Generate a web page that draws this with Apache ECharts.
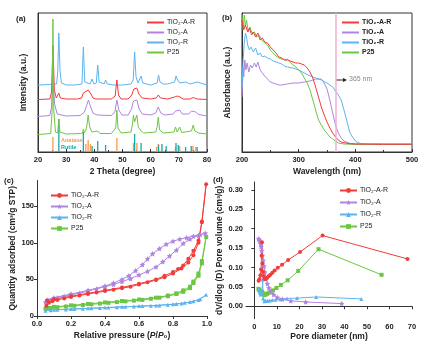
<!DOCTYPE html>
<html><head><meta charset="utf-8">
<script src="https://cdn.jsdelivr.net/npm/echarts@6/dist/echarts.min.js"></script>
<style>html,body{margin:0;padding:0;background:#fff}#c{width:426px;height:347px}</style>
</head><body><div id="c"></div>
<script>
// ---------- DATA ----------
const names = ['TiO₂-A-R', 'TiO₂-A', 'TiO₂-R', 'P25'];
// (a) XRD: [2theta, intensity a.u. (stacked)]
const xrdAR = [[20,52.5],[24.2,53],[24.8,60],[25.3,107],[25.8,62],[26.5,54],[27.0,55],[27.4,59],[27.9,54],[30,53],[34,53],[35.5,54],[36.1,59],[36.8,58],[37.8,62],[38.6,59],[39.5,54],[40.5,53],[41.2,55],[42,53],[46,53],[47.4,56],[48.0,72],[48.6,57],[49.5,53],[52,53],[53.3,57],[54.0,63],[54.6,62],[55.1,64],[55.8,58],[57,54],[60,53],[62,54],[62.7,57],[63.5,54],[66,53],[68.5,55],[69.5,56],[70.4,55],[71.5,53],[74,53],[75.1,54.5],[76.5,53],[80,52.5]];
const xrdA = [[20,35.5],[24.2,36.5],[24.8,45],[25.3,72],[25.9,48],[26.8,38],[30,36],[35,36.5],[36.5,40],[37.1,45],[37.9,52],[38.6,46],[39.5,39],[41,37],[46,36.5],[47.3,40],[48.0,52],[48.7,42],[49.8,37],[52,37],[53.2,43],[53.9,51],[54.5,49],[55.1,52],[55.9,43],[57,38],[60,37],[61.8,39],[62.7,45],[63.6,39],[65,37],[68,38],[68.8,41],[69.5,40],[70.3,42],[71.2,38],[73.5,38],[74.5,41],[75.1,42],[76,40],[77,37.5],[80,36]];
const xrdR = [[20,67],[24,67.5],[26.6,68],[27.0,80],[27.4,119],[27.8,82],[28.3,69],[30,67],[33,67],[35.6,68],[36.1,105],[36.6,70],[38.5,68],[39.2,73],[39.8,68],[40.7,69],[41.2,87],[41.7,70],[43.5,68],[44.0,72],[44.6,68],[47,67],[50,67],[53,68],[53.8,72],[54.3,100],[54.8,75],[55.5,69],[56.1,70],[56.6,76],[57.2,69],[60,67],[62.3,69],[62.8,77],[63.3,70],[64.0,72],[64.6,68],[66,68],[68.5,70],[69.0,76],[69.4,73],[69.8,75],[70.3,69],[72.4,70],[74,68],[76.5,70],[77,68],[80,67]];
const xrdP25 = [[20,17.5],[24.5,18.5],[25.0,40],[25.3,133],[25.6,42],[26.2,20],[27.0,19],[27.4,33],[27.8,20],[30,18],[35,18.5],[35.8,19],[36.1,23],[36.5,19.5],[37.0,22],[37.4,27],[37.8,37],[38.3,26],[38.6,23],[39.2,20],[41.2,21],[42,18.5],[46,18.5],[47.6,24],[48.0,42],[48.4,24],[49.5,19],[53,20],[53.5,27],[53.9,37],[54.3,30],[55.1,37],[55.6,25],[56.6,21],[57.5,19],[61.8,20],[62.3,25],[62.7,35],[63.2,22],[64.5,19],[68.3,20],[68.8,25],[69.4,20],[70.3,25],[71,19.5],[74.5,21],[75.1,27],[75.7,21],[77,19],[80,18]];
const anatase = [[25.3,15],[37.0,8],[37.8,12],[38.6,8],[48.0,14],[53.9,9],[55.1,9],[62.1,5],[62.7,8],[68.8,5],[70.3,6],[75.0,6],[76.0,5]];
const rutile = [[27.4,33],[36.1,20],[39.2,6],[41.2,11],[44.0,7],[54.3,18],[56.6,9],[62.8,7],[64.0,8],[65.5,6],[69.0,9],[69.8,7],[72.4,5],[74.4,6],[76.5,5]];
// (b) UV-vis: [wavelength nm, absorbance a.u.]
const uvAR = [[200,132],[203,122],[206,127],[210,120],[213,124],[217,117],[220,120],[224,115],[228,119],[232,112],[236,114],[240,110],[245,109],[250,105],[255,102],[260,99],[265,95],[270,94],[275,92],[280,92],[285,91],[290,90],[295,89],[300,89],[305,88],[310,87],[315,84],[320,80],[325,74],[330,65],[335,55],[340,45],[345,37],[350,30],[355,24],[360,19],[365,15],[370,12],[375,10],[380,9.3],[390,8.3],[400,8],[450,7.7],[500,7.7]];
const uvA = [[200,55],[201,69],[202,85],[203,75],[205,92],[207,82],[209,89],[212,80],[215,87],[218,84],[222,89],[225,85],[228,90],[232,82],[236,79],[240,76],[245,73],[250,70],[255,69],[260,68],[265,67],[270,67],[280,68],[290,69],[300,69],[310,70],[320,71],[330,73],[336,73],[340,73],[345,69],[350,63],[355,52],[360,39],[365,27],[370,19],[375,14],[380,11],[390,8.7],[400,8],[450,7.7],[500,7.7]];
const uvR = [[200,65],[202,92],[204,109],[206,119],[208,115],[210,107],[213,102],[216,105],[220,100],[224,104],[228,97],[232,99],[236,95],[240,96],[245,94],[250,93],[255,91],[260,90],[265,89],[270,88],[275,86],[280,85],[290,84],[300,82],[310,79],[320,76],[330,74],[340,72],[350,69],[355,67],[360,65],[365,61],[370,57],[375,52],[380,42],[385,31],[390,20],[395,15],[400,11],[405,9.3],[410,8.3],[420,8],[500,8]];
const uvP25 = [[200,138],[202,122],[204,137],[206,125],[208,132],[211,120],[214,125],[218,119],[222,120],[226,115],[230,117],[235,112],[240,109],[245,107],[250,102],[255,99],[260,96],[265,94],[270,93],[273,95],[276,92],[280,93],[285,90],[290,87],[295,85],[300,82],[305,79],[310,74],[315,69],[320,62],[325,52],[330,42],[335,32],[340,27],[345,22],[350,18.7],[355,15],[360,13],[370,9],[380,8],[400,7.7],[500,7.7]];
// (c) N2 isotherms: [P/P0, quantity adsorbed cm3/g STP] (adsorption then desorption)
const isoAR = [[0.055,14],[0.07,18],[0.09,20],[0.12,22],[0.16,24],[0.2,26],[0.25,28],[0.3,30],[0.35,32],[0.4,34],[0.45,36],[0.5,38],[0.55,40],[0.6,43],[0.65,46],[0.7,49],[0.75,53],[0.8,58],[0.85,65],[0.89,73],[0.92,83],[0.95,100],[0.97,128],[0.995,180],[0.97,129],[0.95,103],[0.92,89],[0.89,78],[0.86,69],[0.83,64],[0.8,60],[0.75,55],[0.7,50],[0.6,44],[0.5,39],[0.4,35],[0.3,31],[0.2,27],[0.1,23],[0.06,21]];
const isoA = [[0.05,19],[0.07,21],[0.09,23],[0.12,25],[0.16,27],[0.2,29],[0.25,31],[0.3,34],[0.35,37],[0.4,40],[0.45,43],[0.5,47],[0.55,51],[0.6,56],[0.65,61],[0.7,67],[0.74,74],[0.78,82],[0.82,90],[0.86,99],[0.9,105],[0.95,110],[0.99,113],[0.96,111],[0.92,109],[0.88,107],[0.84,105],[0.8,102],[0.76,98],[0.72,92],[0.68,85],[0.65,78],[0.62,70],[0.58,62],[0.54,55],[0.5,50],[0.45,45],[0.4,41],[0.3,35],[0.2,30],[0.1,25],[0.06,22]];
const isoR = [[0.05,7],[0.08,8],[0.12,8.5],[0.17,9],[0.22,9.5],[0.27,10],[0.32,10.5],[0.37,11],[0.42,11.5],[0.47,12],[0.52,12.5],[0.57,13],[0.62,13.5],[0.67,14],[0.72,14.5],[0.77,15.5],[0.82,16.5],[0.87,18],[0.92,20],[0.96,23],[0.995,29],[0.95,22],[0.9,19],[0.85,17],[0.8,16],[0.7,14.5],[0.6,13.5],[0.5,12.5],[0.4,11.5],[0.3,10.5],[0.2,9.5],[0.1,8.5]];
const isoP25 = [[0.05,10],[0.08,11],[0.12,12],[0.17,13],[0.22,14],[0.27,15],[0.32,16],[0.37,17],[0.42,18],[0.47,19],[0.52,20],[0.57,21],[0.62,22],[0.67,23.5],[0.72,25],[0.77,27],[0.82,30],[0.86,33],[0.9,38],[0.92,45],[0.95,55],[0.97,72],[0.995,108],[0.97,75],[0.95,58],[0.92,47],[0.9,40],[0.86,35],[0.82,31],[0.77,28],[0.7,25],[0.6,22.5],[0.5,20.5],[0.4,18.5],[0.3,16.5],[0.2,14.5],[0.1,12.5],[0.06,11]];
// (d) BJH pore size distribution: [pore diameter nm, dV/dlog(D) cm3/g]
const psdAR = [[68,0.122],[30.3,0.182],[20.3,0.14],[15,0.119],[12.3,0.107],[10.4,0.099],[9,0.092],[8,0.086],[7.1,0.081],[6.3,0.077],[5.6,0.073],[5,0.07],[4.5,0.071],[4.1,0.078],[3.8,0.088],[3.6,0.11],[3.4,0.165],[3.2,0.13],[3.0,0.095],[2.7,0.08],[2.3,0.07],[1.9,0.066]];
const psdA = [[38.8,0.007],[22.8,0.011],[16.2,0.014],[12.5,0.018],[10.2,0.023],[8.6,0.03],[7.4,0.038],[6.5,0.047],[5.8,0.058],[5.2,0.072],[4.7,0.088],[4.3,0.103],[3.9,0.118],[3.6,0.131],[3.3,0.143],[3.0,0.153],[2.8,0.161],[2.5,0.167],[2.2,0.171],[1.9,0.174]];
const psdR = [[47.5,0.019],[27.5,0.024],[19,0.021],[14.5,0.02],[11.5,0.018],[9.5,0.017],[8,0.016],[6.8,0.015],[5.9,0.014],[5.1,0.014],[4.4,0.013],[3.9,0.02],[3.7,0.069],[3.4,0.04],[3.1,0.033],[2.8,0.03],[2.5,0.035],[2.2,0.04],[1.9,0.043]];
const psdP25 = [[56.5,0.081],[28.5,0.147],[19.5,0.091],[14.8,0.067],[11.8,0.055],[9.8,0.047],[8.3,0.041],[7.2,0.037],[6.3,0.034],[5.6,0.032],[5,0.03],[4.5,0.029],[4.1,0.031],[3.8,0.033],[3.5,0.037],[3.2,0.034],[2.9,0.036],[2.5,0.04],[2.1,0.043],[1.8,0.045]];
const ticksC_x = [0, 0.2, 0.4, 0.6, 0.8, 1.0];
const ticksC_y = [0, 50, 100, 150];
const ticksD_x = [0, 10, 20, 30, 40, 50, 60, 70];
const ticksD_y = [0, 0.05, 0.10, 0.15, 0.20, 0.25, 0.30];

// ---------- STYLE ----------
const FONT = 'Arial, "Liberation Sans", sans-serif';
const colors = ['#f23b3b', '#b084e0', '#5cb3ef', '#6cc644'];
const TXT = '#222';
const zw = k => '\u200b'.repeat(k);
const nm = (i, k) => names[i] + zw(k);
const lbl = {fontFamily: FONT, fontWeight: 'bold', fontSize: 7.5, color: TXT};
const nameStyle = {fontFamily: FONT, fontWeight: 'bold', fontSize: 8.5, color: TXT};
const axLine = {show: true, lineStyle: {color: '#333', width: 1}};
const starPath = 'path://M0,-10 L2.9,-4 L9.5,-3.1 L4.8,1.5 L5.9,8.1 L0,5 L-5.9,8.1 L-4.8,1.5 L-9.5,-3.1 L-2.9,-4 Z';
const symbols = ['circle', starPath, 'triangle', 'rect'];

const chart = echarts.init(document.getElementById('c'), null, {renderer: 'canvas'});

const grids = [
  {left: 38, top: 13, width: 169, height: 139, show: true, borderColor: '#333', borderWidth: 1},
  {left: 242, top: 13, width: 170, height: 139, show: true, borderColor: '#333', borderWidth: 1},
  {left: 37, top: 180.5, width: 170, height: 135.5},
  {left: 246, top: 182, width: 166, height: 136.7}
];

const xAxes = [
  {gridIndex: 0, type: 'value', min: 20, max: 80, interval: 10, name: '2 Theta (degree)', nameLocation: 'middle', nameGap: 15, nameTextStyle: nameStyle,
   axisLine: axLine, axisTick: {inside: true, length: 3, lineStyle: {color: '#333'}}, minorTick: {show: true, splitNumber: 2, length: 2, lineStyle: {color: '#333'}},
   axisLabel: Object.assign({margin: 4}, lbl), splitLine: {show: false}},
  {gridIndex: 1, type: 'value', min: 200, max: 500, interval: 100, name: 'Wavelength (nm)', nameLocation: 'middle', nameGap: 15, nameTextStyle: nameStyle,
   axisLine: axLine, axisTick: {inside: true, length: 3, lineStyle: {color: '#333'}}, minorTick: {show: true, splitNumber: 2, length: 2, lineStyle: {color: '#333'}},
   axisLabel: Object.assign({margin: 4}, lbl), splitLine: {show: false}},
  {gridIndex: 2, type: 'value', min: 0, max: 1, name: 'Relative pressure ({i|P}/{i|P}₀)', nameLocation: 'middle', nameGap: 15,
   nameTextStyle: Object.assign({rich: {i: {fontFamily: FONT, fontWeight: 'bold', fontStyle: 'italic', fontSize: 8.5, color: TXT}}}, nameStyle),
   axisLine: axLine, axisTick: {show: true, length: 3, customValues: ticksC_x, lineStyle: {color: '#333'}},
   axisLabel: Object.assign({margin: 4, customValues: ticksC_x, formatter: v => v.toFixed(1)}, lbl), splitLine: {show: false}},
  {gridIndex: 3, type: 'value', min: -3.7, max: 70, name: 'Pore diameter (nm)', nameLocation: 'middle', nameGap: 13, nameTextStyle: nameStyle,
   axisLine: axLine, axisTick: {show: true, length: 3, customValues: ticksD_x, lineStyle: {color: '#333'}},
   axisLabel: Object.assign({margin: 4, customValues: ticksD_x}, lbl), splitLine: {show: false}}
];
const yAxes = [
  {gridIndex: 0, type: 'value', min: 0, max: 139, name: 'Intensity (a.u.)', nameLocation: 'middle', nameGap: 10, nameTextStyle: nameStyle,
   axisLine: axLine, axisTick: {show: false}, axisLabel: {show: false}, splitLine: {show: false}},
  {gridIndex: 1, type: 'value', min: 0, max: 139, name: 'Absorbance (a.u.)', nameLocation: 'middle', nameGap: 10, nameTextStyle: nameStyle,
   axisLine: axLine, axisTick: {show: false}, axisLabel: {show: false}, splitLine: {show: false}},
  {gridIndex: 2, type: 'value', min: 0, max: 185, name: 'Quantity adsorbed (cm³/g STP)', nameLocation: 'middle', nameGap: 19, nameTextStyle: nameStyle,
   axisLine: axLine, axisTick: {show: true, length: 3, customValues: ticksC_y, lineStyle: {color: '#333'}},
   axisLabel: Object.assign({margin: 3, customValues: ticksC_y}, lbl), splitLine: {show: false}},
  {gridIndex: 3, type: 'value', min: -0.032, max: 0.32, name: 'dV/dlog (D) Pore volume (cm³/g)', nameLocation: 'middle', nameGap: 21, nameTextStyle: nameStyle,
   axisLine: axLine, axisTick: {show: true, length: 3, customValues: ticksD_y, lineStyle: {color: '#333'}},
   axisLabel: Object.assign({margin: 3, customValues: ticksD_y, formatter: v => v.toFixed(2)}, lbl), splitLine: {show: false}}
];

const series = [];
const xrd = [xrdAR, xrdA, xrdR, xrdP25];
const uv = [uvAR, uvA, uvR, uvP25];
const iso = [isoAR, isoA, isoR, isoP25];
const psd = [psdAR, psdA, psdR, psdP25];
[2, 0, 1, 3].forEach(i => series.push({name: nm(i, 0), type: 'line', xAxisIndex: 0, yAxisIndex: 0, data: xrd[i], symbol: 'none', color: colors[i], lineStyle: {width: 1}, z: i === 3 ? 3 : 2}));
series.push({name: 'Anatase', type: 'bar', xAxisIndex: 0, yAxisIndex: 0, data: anatase, barWidth: 1.3, barGap: '-100%', itemStyle: {color: '#f59a4f'}});
series.push({name: 'Rutile', type: 'bar', xAxisIndex: 0, yAxisIndex: 0, data: rutile, barWidth: 1.3, barGap: '-100%', itemStyle: {color: '#19a7a8'}});
[1, 2, 3, 0].forEach(i => series.push({name: nm(i, 1), type: 'line', xAxisIndex: 1, yAxisIndex: 1, data: uv[i], symbol: 'none', color: colors[i], lineStyle: {width: 1},
  markLine: i === 0 ? {silent: true, symbol: 'none', label: {show: false}, lineStyle: {color: '#f0b0d2', width: 1.5, type: 'solid'}, data: [{xAxis: 365}]} : undefined}));
[3, 2, 1, 0].forEach(i => series.push({name: nm(i, 2), type: 'line', xAxisIndex: 2, yAxisIndex: 2, data: iso[i], symbol: symbols[i], symbolSize: i === 1 ? 5.5 : 4, color: colors[i], lineStyle: {width: 1}}));
[3, 2, 1, 0].forEach(i => series.push({name: nm(i, 3), type: 'line', xAxisIndex: 3, yAxisIndex: 3, data: psd[i], symbol: symbols[i], symbolSize: i === 1 ? 5.5 : 4, color: colors[i], lineStyle: {width: 1}}));

function legend(k, left, top, bold, gap, lineOnly) {
  return {left, top, padding: 0, orient: 'vertical', itemWidth: 17, itemHeight: lineOnly ? 2 : 6, itemGap: gap, selectedMode: false,
    data: names.map((n, i) => lineOnly ? {name: nm(i, k), icon: 'rect'} : nm(i, k)),
    textStyle: {fontFamily: FONT, fontSize: 7, fontWeight: bold ? 'bold' : 'normal', color: TXT, padding: [0, 0, 0, -2]}};
}

const panelLabel = (t, x, y) => ({type: 'text', left: x, top: y, style: {text: t, font: 'bold 8px ' + FONT, fill: TXT}});

chart.setOption({
  animation: false,
  grid: grids, xAxis: xAxes, yAxis: yAxes, series,
  legend: [legend(0, 147, 19, false, 3, true), legend(1, 342, 19, true, 3, true), legend(2, 50, 192, false, 4, false), legend(3, 339, 187, false, 5, false)],
  graphic: [
    panelLabel('(a)', 16, 15), panelLabel('(b)', 222, 14), panelLabel('(c)', 4, 177), panelLabel('(d)', 213, 176),
    {type: 'text', left: 61, top: 137, style: {text: 'Anatase', font: 'bold 5.5px ' + FONT, fill: '#f59a4f'}},
    {type: 'text', left: 61, top: 144, style: {text: 'Rutile', font: 'bold 5.5px ' + FONT, fill: '#19a7a8'}},
    {type: 'line', shape: {x1: 336, y1: 80, x2: 344, y2: 80}, style: {stroke: '#222', lineWidth: 1}},
    {type: 'polygon', shape: {points: [[347, 80], [343, 78], [343, 82]]}, style: {fill: '#222'}},
    {type: 'text', left: 349, top: 76, style: {text: '365 nm', font: '7px ' + FONT, fill: '#888'}}
  ]
});
</script></body></html>
